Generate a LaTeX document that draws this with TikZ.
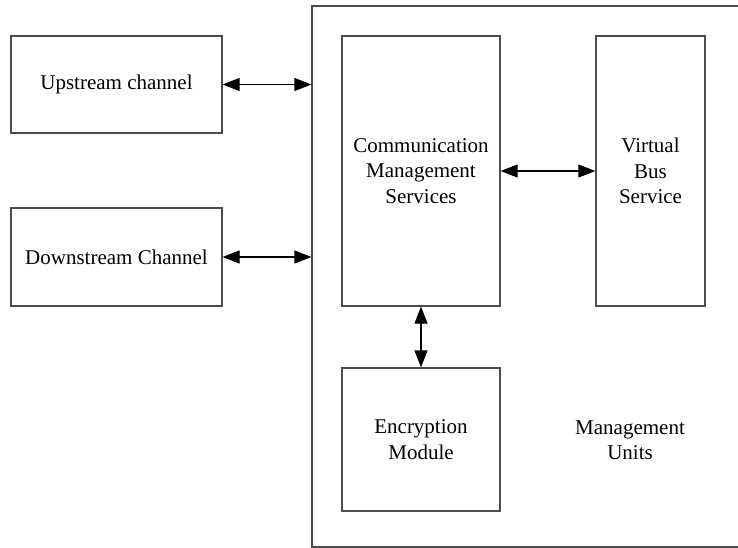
\documentclass[tikz,border=0pt]{standalone}
\usepackage{fontspec}
\setmainfont{Liberation Serif}
\usetikzlibrary{arrows.meta}

\begin{document}
\begin{tikzpicture}[x=1pt, y=-1pt, line width=1.2pt,
    box/.style={draw=black!70, rectangle, inner sep=0pt, align=center,
        font=\fontsize{21}{25.5}\selectfont},
    link/.style={black, line width=1.2pt, {Triangle[length=17pt,width=13pt]}-{Triangle[length=17pt,width=13pt]}}]

            \useasboundingbox (0,0) rectangle (738,548);

            \node[box, minimum width=433pt, minimum height=541pt] (mu) at (528.5,276.5) {};
            \node[box, minimum width=211pt, minimum height=97pt] (up) at (116.5,84.5) {Upstream channel};
            \node[box, minimum width=211pt, minimum height=98pt] (down) at (116.5,257) {Downstream Channel};
            \node[box, minimum width=158pt, minimum height=270pt] (cms) at (421,171) {Communication\\Management\\Services};
            \node[box, minimum width=109pt, minimum height=270pt] (vbs) at (650.5,171) {Virtual\\Bus\\Service};
            \node[box, minimum width=158pt, minimum height=143pt] (enc) at (421,439.5) {Encryption\\Module};
            \node[align=center, font=\fontsize{21}{25.5}\selectfont] (mutext) at (630,440) {Management\\Units};

            \draw[link] (up.east)--(up.east -| mu.west);
            \draw[link] (down.east)--(down.east -| mu.west);
            \draw[link] (cms.east)--(vbs.west);
            \draw[link] (cms.south)--(enc.north);

        \end{tikzpicture}
\end{document}
